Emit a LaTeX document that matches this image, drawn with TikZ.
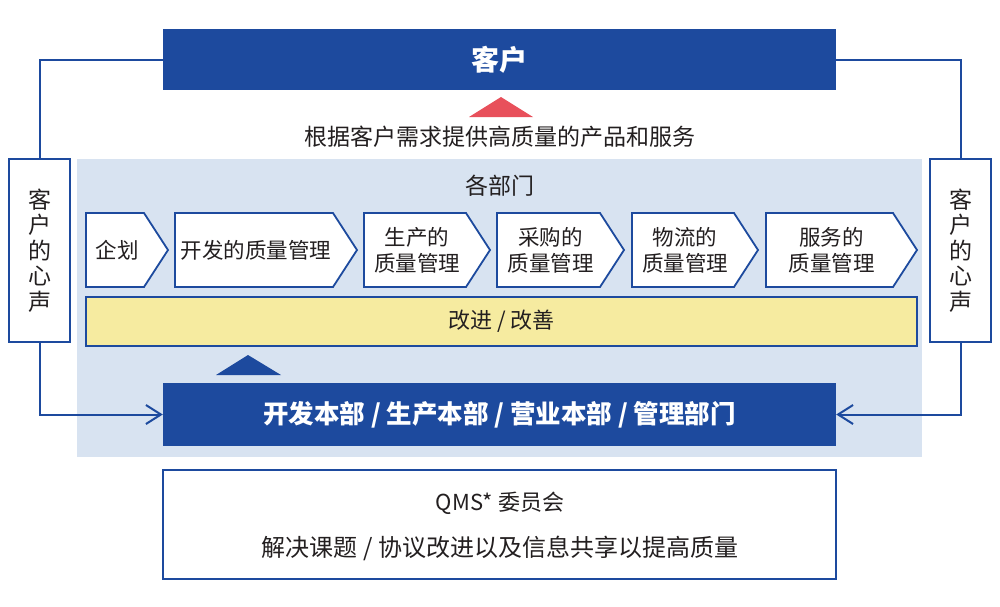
\documentclass[tikz,border=0pt]{standalone}
\usepackage{fontspec}
\setmainfont{Noto Sans CJK SC}
\usetikzlibrary{arrows.meta}
\definecolor{dblue}{HTML}{1D4A9E}
\definecolor{lpanel}{HTML}{D8E3F1}
\definecolor{ybar}{HTML}{F6EBA0}
\definecolor{redtri}{HTML}{E8505B}
\definecolor{txt}{HTML}{231F20}
\tikzset{
  bluebox/.style={rectangle, fill=dblue, text=white, inner sep=0pt, font=\fontsize{25.5}{28}\selectfont\bfseries},
  wbox/.style={rectangle, draw=dblue, line width=2.2pt, fill=white, inner sep=0pt, text=txt},
  chevpath/.style={draw=dblue, line width=1.8pt, fill=white, line join=miter},
  chevtext/.style={text=txt, font=\fontsize{21.5}{26}\selectfont, align=center, inner sep=0pt},
  conn/.style={draw=dblue, line width=2pt},
  arr/.style={conn, -{Straight Barb[length=15pt,width=19pt,line width=2pt]}},
  plain/.style={text=txt, inner sep=0pt}
}
\newcommand\chev[4]{%
  \draw[chevpath] (#2,213) -- ({#3-24},213) -- (#3,250) -- ({#3-24},287) -- (#2,287) -- cycle;
  \node[chevtext] (#1) at ({(#2+#3-24)/2+2},250) {#4};}
\begin{document}
\begin{tikzpicture}[x=1pt,y=-1pt]
\useasboundingbox[fill=white] (0,0) rectangle (1000,606);
% light panel
\fill[lpanel] (77,159) rectangle (922,457);
% top customer box
\node[bluebox, minimum width=673pt, minimum height=61pt, font=\fontsize{28}{32}\selectfont\bfseries] (cust) at (499.5,59.5) {客户};
% red triangle
\fill[redtri] (469,117) -- (501,97) -- (533,117) -- cycle;
\node[plain, font=\fontsize{23}{26}\selectfont] (need) at (500,137) {根据客户需求提供高质量的产品和服务};
\node[plain, font=\fontsize{23}{26}\selectfont] (depts) at (500,186) {各部门};
% chevrons
\chev{c1}{86}{168}{企划}
\chev{c2}{175}{357}{开发的质量管理}
\chev{c3}{364}{490}{生产的\\质量管理}
\chev{c4}{497}{624}{采购的\\质量管理}
\chev{c5}{632}{758}{物流的\\质量管理}
\chev{c6}{766}{917}{服务的\\质量管理}
% yellow bar
\node[rectangle, draw=dblue, line width=1.8pt, fill=ybar, minimum width=831pt, minimum height=49pt, inner sep=0pt, text=txt, font=\fontsize{22}{25}\selectfont] (impr) at (501.5,321.5) {改进 / 改善};
% dark triangle
\fill[dblue] (216,375) -- (248,355) -- (281,375) -- cycle;
% bottom blue box
\node[bluebox, minimum width=673pt, minimum height=63pt] (dept) at (499.5,414.5) {开发本部 / 生产本部 / 营业本部 / 管理部门};
% side boxes
\node[wbox, minimum width=61pt, minimum height=183pt, align=center, font=\fontsize{23}{25.5}\selectfont] (lvoice) at (39.5,250.5) {客\\户\\的\\心\\声};
\node[wbox, minimum width=61pt, minimum height=183pt, align=center, font=\fontsize{23}{25.5}\selectfont] (rvoice) at (960.5,250.5) {客\\户\\的\\心\\声};
% QMS box
\node[wbox, minimum width=673pt, minimum height=109pt] (qms) at (499.5,524.5) {};
\node[plain, font=\fontsize{22}{25}\selectfont] (qms1) at (500,503) {QMS* 委员会};
\node[plain, font=\fontsize{24}{27}\selectfont] (qms2) at (500,548) {解决课题 / 协议改进以及信息共享以提高质量};
% connectors
\draw[conn] (cust.west) -| (lvoice.north);
\draw[conn] (cust.east) -| (rvoice.north);
\draw[arr] (lvoice.south) |- (dept.west);
\draw[arr] (rvoice.south) |- (dept.east);
\end{tikzpicture}
\end{document}
